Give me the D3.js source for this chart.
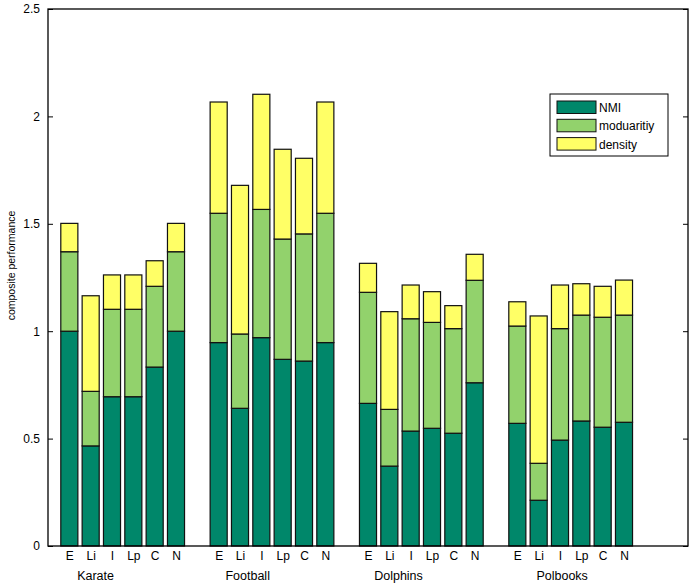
<!DOCTYPE html>
<html><head><meta charset="utf-8">
<script src="https://cdn.jsdelivr.net/npm/d3@7"></script>
<style>body{margin:0;background:#fff}svg{display:block;font-family:"Liberation Sans",Arial,sans-serif}</style>
</head><body><svg id="c" width="700" height="587"></svg>
<script>
const groups = ["Karate","Football","Dolphins","Polbooks"];
const methods = ["E","Li","I","Lp","C","N"];
const seriesNames = ["NMI","moduaritiy","density"];
// component heights, ordered group by group, method by method
const nmi = [1.000,0.466,0.695,0.695,0.833,1.000,
             0.947,0.641,0.970,0.869,0.861,0.947,
             0.664,0.372,0.535,0.548,0.525,0.760,
             0.571,0.213,0.493,0.582,0.553,0.576];
const modularity = [0.370,0.254,0.407,0.407,0.376,0.370,
                    0.602,0.346,0.597,0.560,0.592,0.602,
                    0.517,0.264,0.523,0.493,0.487,0.477,
                    0.453,0.172,0.519,0.493,0.512,0.499];
const density = [0.132,0.445,0.160,0.160,0.119,0.132,
                 0.518,0.692,0.536,0.418,0.352,0.518,
                 0.135,0.455,0.157,0.143,0.107,0.121,
                 0.113,0.686,0.203,0.146,0.144,0.163];
const yTicks = [0,0.5,1,1.5,2,2.5];
const yTickLabels = ["0","0.5","1","1.5","2","2.5"];
const groupLabelSlot = [2.23,9.36,16.43,24.1];

const colors = ["#00876a","#92d26c","#ffff66"];
const L=48,R=688,T=9,B=546;
const svg=d3.select("#c");
const x=d3.scaleLinear().domain([0,30]).range([L,R]);
const y=d3.scaleLinear().domain([0,2.5]).range([B,T]);

const rows=[];
groups.forEach((g,gi)=>methods.forEach((m,mi)=>{
  const i=gi*6+mi;
  rows.push({slot:1+gi*7+mi,method:m,group:g,NMI:nmi[i],moduaritiy:modularity[i],density:density[i]});
}));
const stack=d3.stack().keys(seriesNames)(rows);
const bw=x(0.8)-x(0);

svg.append("rect").attr("x",L).attr("y",T).attr("width",R-L).attr("height",B-T).attr("fill","#fff");
stack.forEach((s,si)=>{
  svg.append("g").selectAll("rect").data(s).join("rect")
    .attr("x",d=>x(d.data.slot)-bw/2).attr("width",bw)
    .attr("y",d=>y(d[1])).attr("height",d=>y(d[0])-y(d[1]))
    .attr("fill",colors[si]).attr("stroke","#111").attr("stroke-width",1.2);
});
// frame
svg.append("rect").attr("x",L).attr("y",T).attr("width",R-L).attr("height",B-T)
  .attr("fill","none").attr("stroke","#000").attr("stroke-width",1.3);
// y axis
const yl=svg.append("g").attr("transform",`translate(${L},0)`)
  .call(d3.axisLeft(y).tickValues(yTicks).tickFormat((d,i)=>yTickLabels[i]).tickSizeInner(-5).tickSizeOuter(0).tickPadding(8));
yl.select(".domain").remove();
yl.selectAll("text").attr("font-size",12).attr("fill","#000").attr("font-family","Liberation Sans, Arial");
const yr=svg.append("g").attr("transform",`translate(${R},0)`)
  .call(d3.axisRight(y).tickValues(yTicks).tickFormat("").tickSizeInner(-5).tickSizeOuter(0));
yr.select(".domain").remove();
// x labels
const xa=svg.append("g").attr("transform",`translate(0,${B})`)
  .call(d3.axisBottom(x).tickValues(rows.map(r=>r.slot)).tickFormat((d,i)=>rows[i].method).tickSize(0).tickPadding(5));
xa.select(".domain").remove();
xa.selectAll("text").attr("font-size",12).attr("fill","#000").attr("font-family","Liberation Sans, Arial");
svg.append("g").selectAll("text").data(groups).join("text")
  .attr("x",(d,i)=>x(groupLabelSlot[i])).attr("y",580).attr("text-anchor","middle")
  .attr("font-size",12.5).text(d=>d);
svg.append("text").attr("transform",`translate(15,${(T+B)/2-12}) rotate(-90)`)
  .attr("text-anchor","middle").attr("font-size",10.5).text("composite performance");
// legend
const lg=svg.append("g");
lg.append("rect").attr("x",550).attr("y",94).attr("width",118).attr("height",62).attr("fill","#fff").attr("stroke","#000").attr("stroke-width",1);
seriesNames.forEach((n,i)=>{
  lg.append("rect").attr("x",557).attr("y",101+i*18.3).attr("width",39).attr("height",12.5).attr("fill",colors[i]).attr("stroke","#111");
  lg.append("text").attr("x",599).attr("y",112+i*18.3).attr("font-size",12).text(n);
});
</script></body></html>
